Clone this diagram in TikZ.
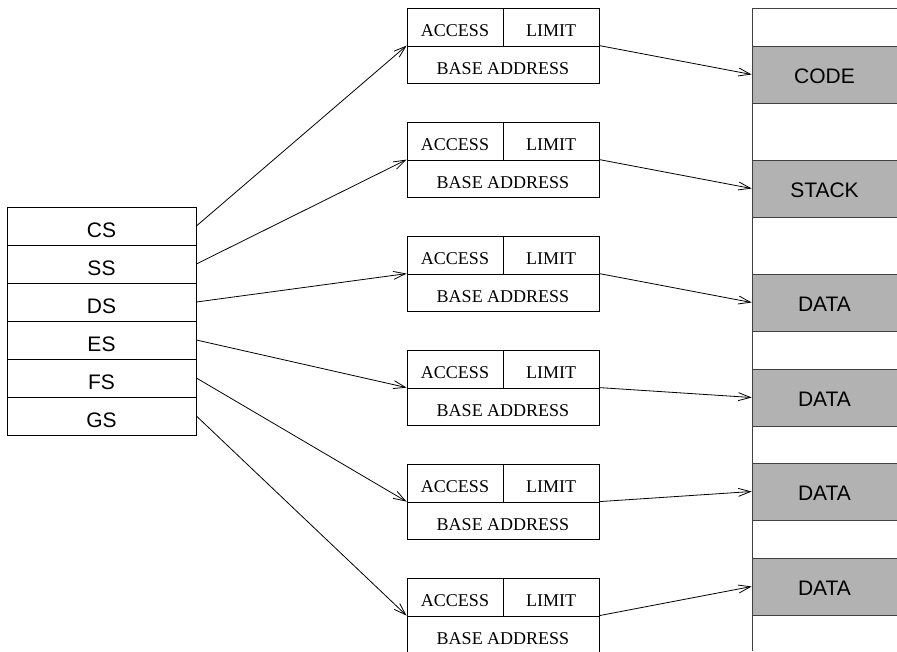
\documentclass[tikz,border=0pt]{standalone}
\usepackage{fontspec}
\setmainfont{Liberation Serif}
\newfontfamily\regfont{Liberation Sans}
\usetikzlibrary{arrows.meta}
\begin{document}
\begin{tikzpicture}[x=1pt, y=-1pt, line width=0.8pt,
    reg/.style={draw, minimum width=189pt, minimum height=38pt, inner sep=0pt, text height=22pt, text depth=0pt, font=\regfont\fontsize{21}{21}\selectfont},
    field/.style={draw, minimum width=96pt, minimum height=38pt, inner sep=0pt, text height=18pt, text depth=0pt, font=\fontsize{18}{18}\selectfont},
    basefield/.style={draw, minimum width=192pt, minimum height=37pt, inner sep=0pt, text height=19pt, text depth=0pt, font=\fontsize{18}{18}\selectfont},
    seg/.style={fill=gray!60, minimum width=145pt, minimum height=56pt, inner sep=0pt, text height=18pt, text depth=0pt, font=\regfont\fontsize{21}{21}\selectfont},
    ptr/.style={-{Straight Barb[length=12pt, width=8pt, line width=0.8pt]}}]
    \useasboundingbox (0,0) rectangle (897,651);

    % Registros de segmento
    \foreach \r [count=\j from 0] in {CS,SS,DS,ES,FS,GS}
        \node[reg] (\r) at (101.5, 226+38*\j) {\r};

    % Descriptores
    \foreach \i in {0,...,5} {
        \node[field] (acc\i) at (455, 27+114*\i) {ACCESS};
        \node[field] (lim\i) at (551, 27+114*\i) {LIMIT};
        \node[basefield] (base\i) at (503, 64.5+114*\i) {BASE ADDRESS};
    }

    % Memoria
    \foreach \name/\txt/\y in {code/CODE/74.5, stack/STACK/188.5, data1/DATA/302.5,
                          data2/DATA/397.5, data3/DATA/491.5, data4/DATA/586.5} {
        \node[seg] (\name) at (824.5, \y) {\txt};
        \draw[black!75] (\name.north west) -- (\name.north east);
        \draw[black!75] (\name.south west) -- (\name.south east);
    }
    \draw[black!75] (752,651) -- (752,8) -- (897,8);

    % Flechas registro -> descriptor
    \draw[ptr] (CS.east) -- (base0.north west);
    \draw[ptr] (SS.east) -- (base1.north west);
    \draw[ptr] (DS.east) -- (base2.north west);
    \draw[ptr] (ES.east) -- (base3.north west);
    \draw[ptr] (FS.east) -- (base4.north west);
    \draw[ptr] (GS.east) -- (base5.north west);

    % Flechas descriptor -> segmento
    \draw[ptr] (base0.north east) -- (code.west);
    \draw[ptr] (base1.north east) -- (stack.west);
    \draw[ptr] (base2.north east) -- (data1.west);
    \draw[ptr] (base3.north east) -- (data2.west);
    \draw[ptr] (base4.north east) -- (data3.west);
    \draw[ptr] (base5.north east) -- (data4.west);
\end{tikzpicture}
\end{document}
